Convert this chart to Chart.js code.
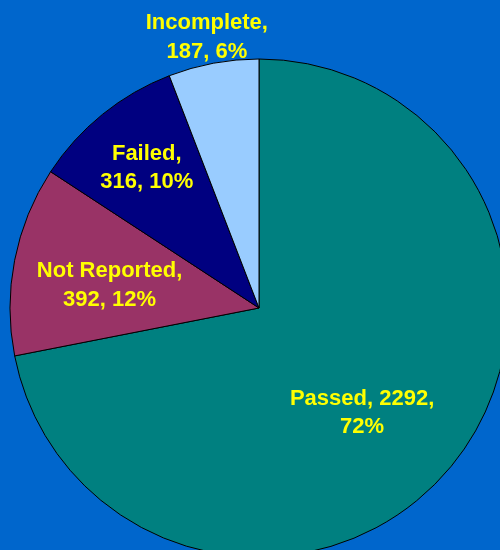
<!DOCTYPE html>
<html>
<head>
<meta charset="utf-8">
<script src="https://cdn.jsdelivr.net/npm/chart.js@4/dist/chart.umd.min.js"></script>
<style>
html, body { margin: 0; padding: 0; background: #0066CC; overflow: hidden; }
#c { display: block; }
</style>
</head>
<body>
<canvas id="c" width="500" height="550"></canvas>
<script>
const categories = ["Passed", "Not Reported", "Failed", "Incomplete"];
const counts = [2292, 392, 316, 187];
const percentLabels = ["72%", "12%", "10%", "6%"];
const sliceColors = ["#008080", "#993366", "#000080", "#99CCFF"];

// label text lines per slice
const labelLines = [
  ["Passed, 2292,", "72%"],
  ["Not Reported,", "392, 12%"],
  ["Failed,", "316, 10%"],
  ["Incomplete,", "187, 6%"]
];
// label placement: fraction of radius and angle shift (degrees)
const labelRadius = [0.586, 0.608, 0.726, 1.112];
const labelShift = [5.6, -1.9, 0.6, -0.3];

const labelPlugin = {
  id: 'sliceLabels',
  afterDatasetsDraw(chart) {
    const ctx = chart.ctx;
    const meta = chart.getDatasetMeta(0);
    ctx.save();
    ctx.font = 'bold 22px "Liberation Sans", Arial, sans-serif';
    ctx.fillStyle = '#FFFF00';
    ctx.textAlign = 'center';
    ctx.textBaseline = 'middle';
    meta.data.forEach((arc, i) => {
      const p = arc.getProps(['x', 'y', 'startAngle', 'endAngle', 'outerRadius'], true);
      const mid = (p.startAngle + p.endAngle) / 2 + labelShift[i] * Math.PI / 180;
      const r = p.outerRadius * labelRadius[i];
      const x = p.x + Math.cos(mid) * r;
      const y = p.y + Math.sin(mid) * r + 1.5;
      const lines = labelLines[i];
      const lh = 28.5;
      lines.forEach((t, k) => {
        ctx.fillText(t, x, y + (k - (lines.length - 1) / 2) * lh);
      });
    });
    ctx.restore();
  }
};

new Chart(document.getElementById('c'), {
  type: 'pie',
  data: {
    labels: categories,
    datasets: [{
      data: counts,
      backgroundColor: sliceColors,
      borderColor: '#000000',
      borderWidth: 1
    }]
  },
  options: {
    responsive: false,
    animation: false,
    radius: 249,
    layout: { padding: { left: 18, top: 66, right: 0, bottom: 0 } },
    plugins: {
      legend: { display: false },
      tooltip: { enabled: false }
    }
  },
  plugins: [labelPlugin]
});
</script>
</body>
</html>
